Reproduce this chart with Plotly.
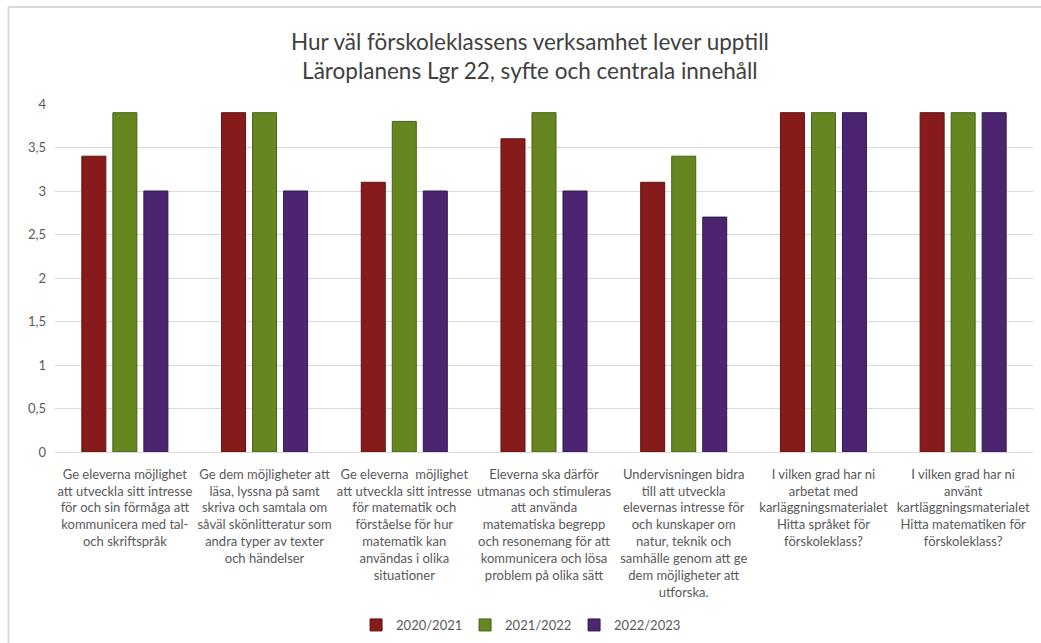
import plotly.graph_objects as go

categories = [
    "Ge eleverna möjlighet<br>att utveckla sitt intresse<br>för och sin förmåga att<br>kommunicera med tal-<br>och skriftspråk",
    "Ge dem möjligheter att<br>läsa, lyssna på samt<br>skriva och samtala om<br>såväl skönlitteratur som<br>andra typer av texter<br>och händelser",
    "Ge eleverna  möjlighet<br>att utveckla sitt intresse<br>för matematik och<br>förståelse för hur<br>matematik kan<br>användas i olika<br>situationer",
    "Eleverna ska därför<br>utmanas och stimuleras<br>att använda<br>matematiska begrepp<br>och resonemang för att<br>kommunicera och lösa<br>problem på olika sätt",
    "Undervisningen bidra<br>till att utveckla<br>elevernas intresse för<br>och kunskaper om<br>natur, teknik och<br>samhälle genom att ge<br>dem möjligheter att<br>utforska.",
    "I vilken grad har ni<br>arbetat med<br>karläggningsmaterialet<br>Hitta språket för<br>förskoleklass?",
    "I vilken grad har ni<br>använt<br>kartläggningsmaterialet<br>Hitta matematiken för<br>förskoleklass?",
]

series_names = ["2020/2021", "2021/2022", "2022/2023"]
values_2020_2021 = [3.4, 3.9, 3.1, 3.6, 3.1, 3.9, 3.9]
values_2021_2022 = [3.9, 3.9, 3.8, 3.9, 3.4, 3.9, 3.9]
values_2022_2023 = [3.0, 3.0, 3.0, 3.0, 2.7, 3.9, 3.9]

y_tickvals = [0, 0.5, 1, 1.5, 2, 2.5, 3, 3.5, 4]

title_text = "Hur väl förskoleklassens verksamhet lever upptill<br>Läroplanens Lgr 22, syfte och centrala innehåll"

colors = ["#871b1b", "#658620", "#4b2570"]
outlines = ["#5e1212", "#486016", "#33184f"]

fig = go.Figure()
for name, vals, c, oc in zip(series_names,
                             [values_2020_2021, values_2021_2022, values_2022_2023],
                             colors, outlines):
    fig.add_trace(go.Bar(name=name, x=categories, y=vals,
                         marker=dict(color=c, line=dict(color=oc, width=1))))

FONT = "Lato, 'Open Sans', sans-serif"
fig.update_layout(
    width=1041, height=643,
    barmode="group", bargap=0.334, bargroupgap=0.226,
    separators=", ",
    paper_bgcolor="white", plot_bgcolor="white",
    margin=dict(l=55, r=8, t=104, b=191),
    font=dict(family=FONT, size=13, color="#595959"),
    title=dict(text=title_text, x=0.509, xref="container", xanchor="center",
               y=1 - 50 / 643, yref="container", yanchor="middle",
               font=dict(family=FONT, size=22.5, color="#404040")),
    legend=dict(orientation="h", x=0.475, xanchor="center",
                y=1 - 625 / 643, yref="container", yanchor="middle",
                font=dict(family=FONT, size=13, color="#595959"),
                itemwidth=30, entrywidth=64, traceorder="normal"),
    xaxis=dict(showgrid=False, showline=True, linecolor="#d9d9d9", linewidth=1,
               ticks="", tickangle=0, automargin=False, ticklabelstandoff=10,
               tickfont=dict(family=FONT, size=13, color="#595959")),
    yaxis=dict(range=[0, 4], tickvals=y_tickvals, showgrid=True, gridcolor="#d9d9d9",
               gridwidth=1, zeroline=False, showline=False, ticks="", automargin=False,
               tickfont=dict(family=FONT, size=13, color="#595959"), ticklabelstandoff=8),
    showlegend=True,
)

# chart border (top and left edges visible)
fig.add_shape(type="line", xref="paper", yref="paper",
              x0=(8.5 - 55) / 978, x1=1.05, y0=(452 - 7) / 348, y1=(452 - 7) / 348,
              line=dict(color="#d9d9d9", width=2))
fig.add_shape(type="line", xref="paper", yref="paper",
              x0=(8.5 - 55) / 978, x1=(8.5 - 55) / 978, y0=-0.6, y1=(452 - 7) / 348,
              line=dict(color="#d9d9d9", width=2))

fig.write_html("out.html", config={"displayModeBar": False},
               post_script="document.body.style.margin='0px';")
